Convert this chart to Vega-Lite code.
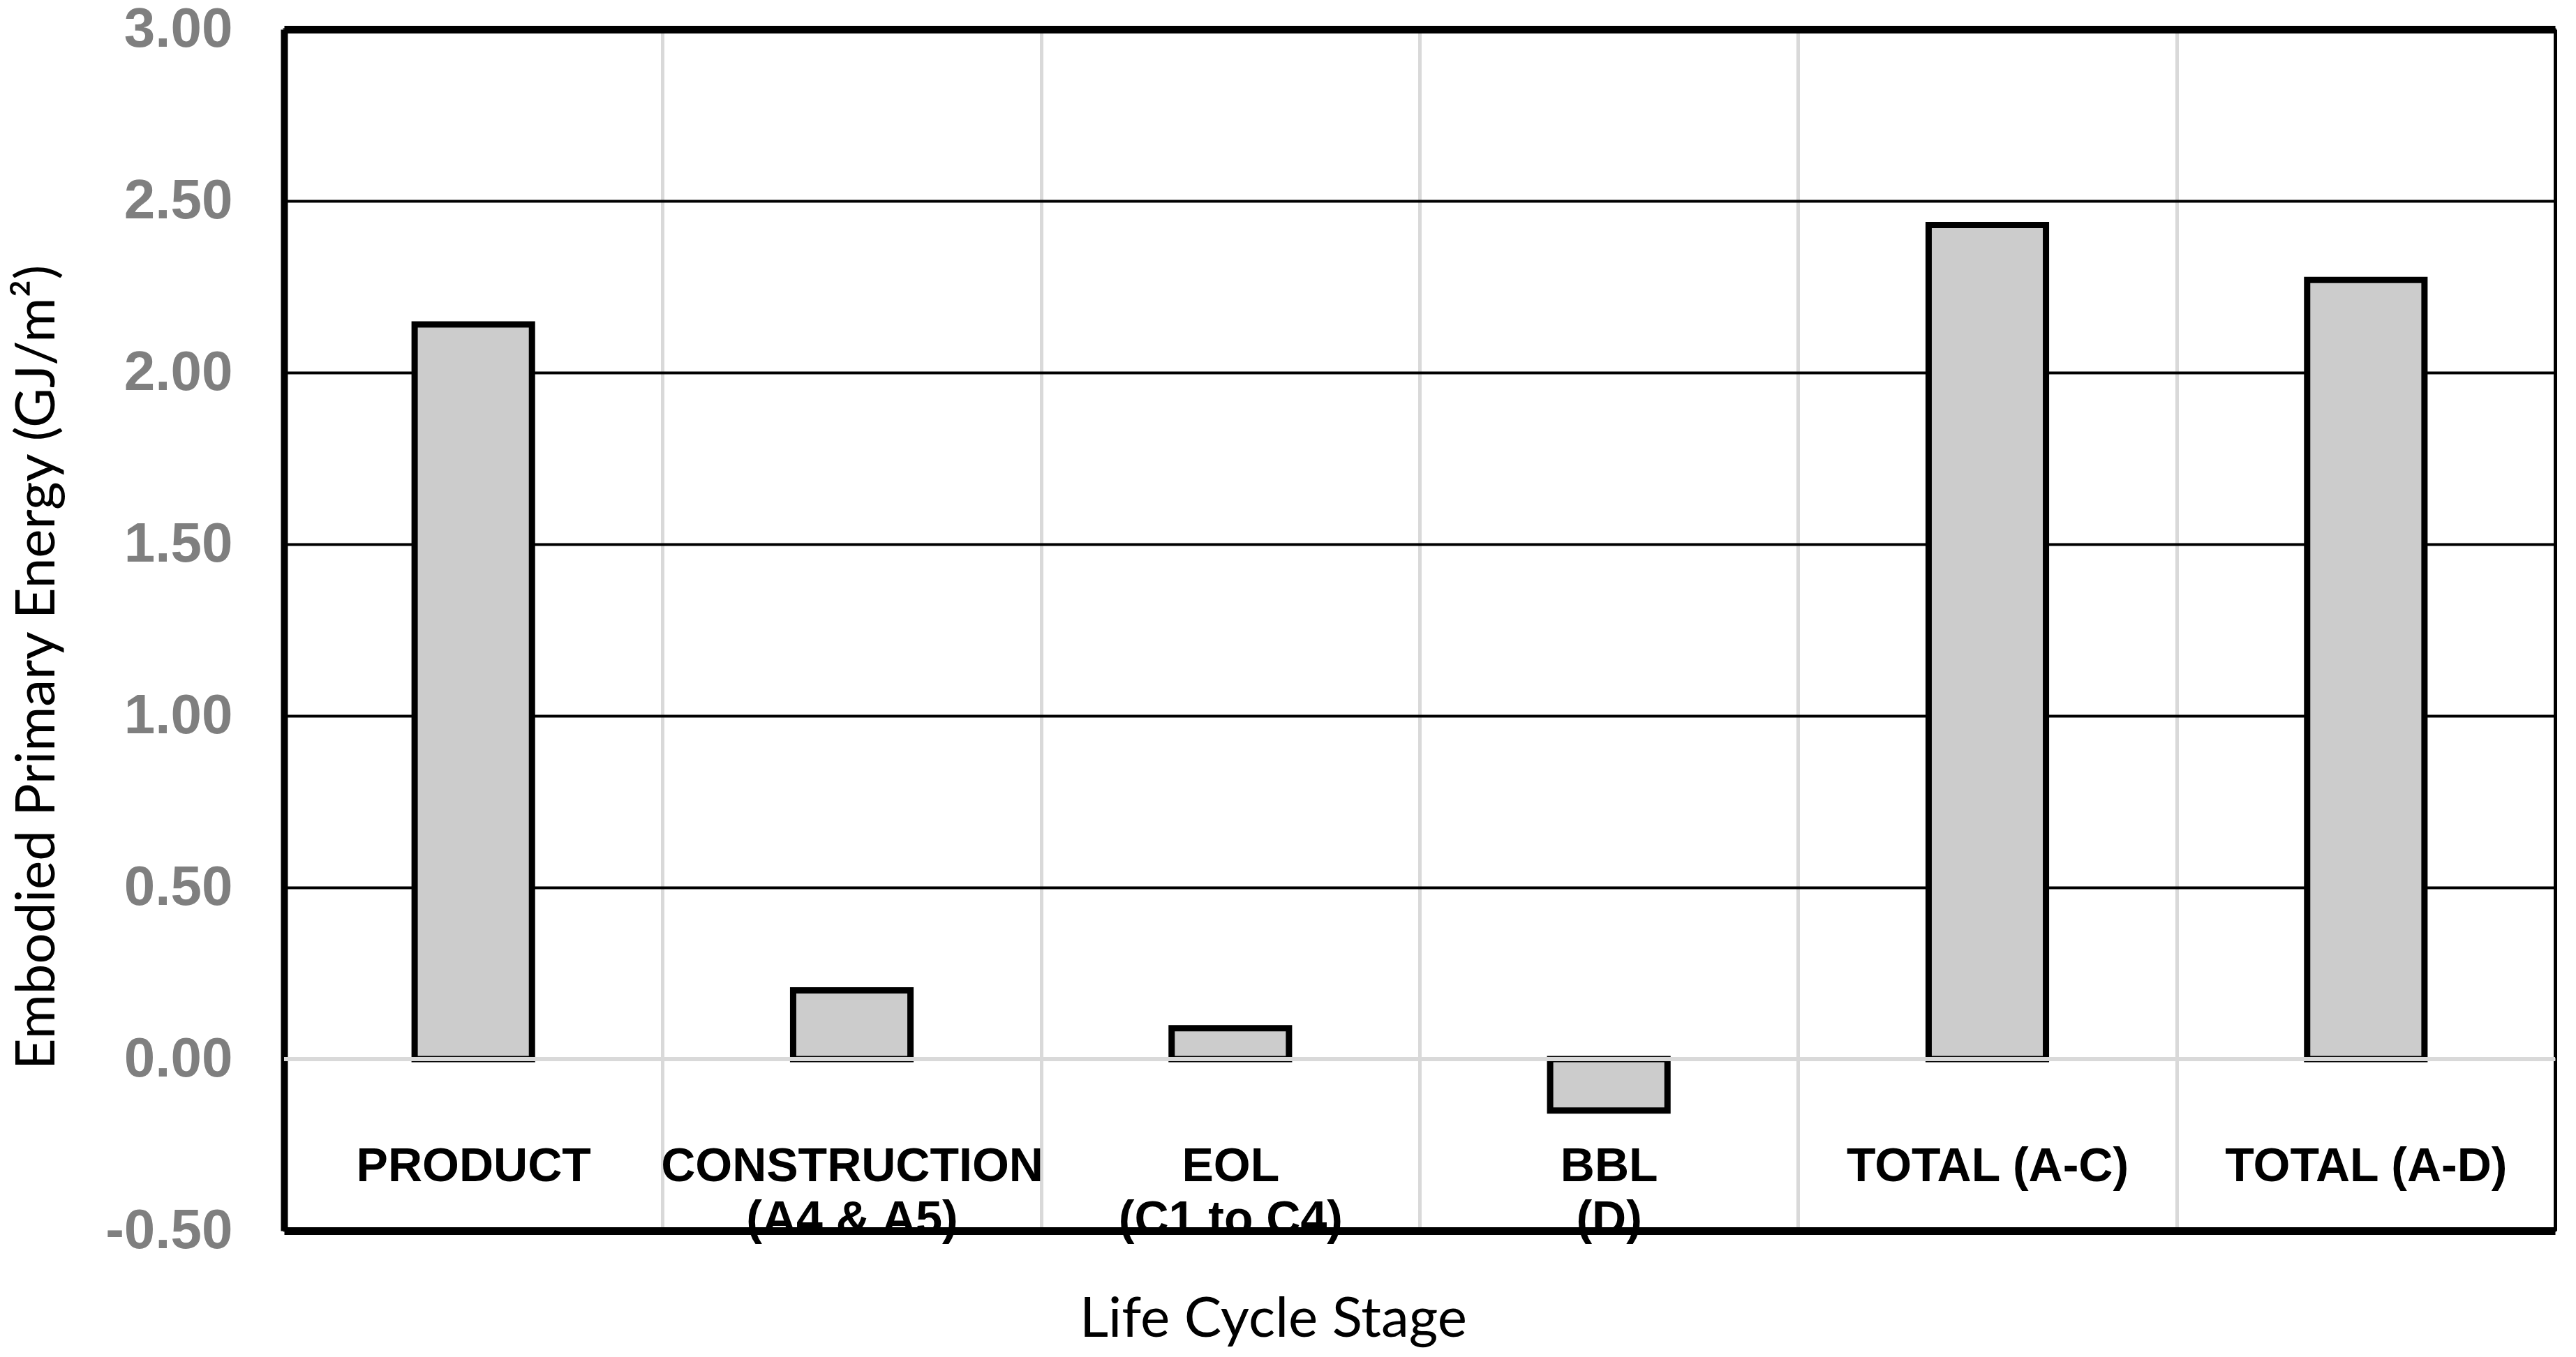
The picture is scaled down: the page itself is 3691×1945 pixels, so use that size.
{
  "$schema": "https://vega.github.io/schema/vega-lite/v6.json",
  "width": 3254,
  "height": 1722,
  "autosize": {"type": "none"},
  "padding": {"left": 407, "top": 42, "right": 30, "bottom": 181},
  "background": "white",
  "config": {"view": {"stroke": "black", "strokeWidth": 3}, "font": "Liberation Sans"},
  "data": {
    "values": [
      {"stage": "PRODUCT", "value": 2.14},
      {"stage": "CONSTRUCTION\n(A4 & A5)", "value": 0.20},
      {"stage": "EOL\n(C1 to C4)", "value": 0.09},
      {"stage": "BBL\n(D)", "value": -0.15},
      {"stage": "TOTAL (A-C)", "value": 2.43},
      {"stage": "TOTAL (A-D)", "value": 2.27}
    ]
  },
  "layer": [
    {
      "mark": {"type": "bar", "fill": "#cccccc", "stroke": "black", "strokeWidth": 9, "width": {"band": 0.31}},
      "encoding": {
        "x": {
          "field": "stage",
          "type": "nominal",
          "sort": null,
          "scale": {"paddingInner": 0, "paddingOuter": 0},
          "axis": {
            "title": "Life Cycle Stage",
            "tickBand": "extent",
            "grid": true,
            "gridColor": {"condition": {"test": "datum.value === 'TOTAL (A-D)'", "value": "black"}, "value": "#d9d9d9"},
            "gridWidth": 5,
            "domain": false,
            "ticks": false,
            "tickSize": 0,
            "labelAngle": 0,
            "labelExpr": "split(datum.label, '\\n')",
            "labelFont": "Liberation Sans",
            "labelFontWeight": "bold",
            "labelFontSize": 68,
            "labelColor": "black",
            "labelLineHeight": 76,
            "labelBaseline": "top",
            "labelPadding": -126,
            "labelOverlap": false,
            "labelBound": false,
            "labelFlush": false,
            "labelLimit": 0,
            "titleFont": "Lato",
            "titleFontSize": 80,
            "titleFontWeight": "normal",
            "titleColor": "black",
            "titleX": 1417,
            "titleY": 151,
            "titleBaseline": "alphabetic",
            "titleAlign": "center"
          }
        },
        "y": {
          "field": "value",
          "type": "quantitative",
          "scale": {"domain": [-0.5, 3], "nice": false},
          "axis": {
            "values": [-0.5, 0, 0.5, 1, 1.5, 2, 2.5, 3],
            "labelExpr": "replace(format(datum.value, '.2f'), '\u2212', '-')",
            "title": "Embodied Primary Energy (GJ/m²)",
            "labelFont": "Liberation Sans",
            "labelFontWeight": "bold",
            "labelFontSize": 80,
            "labelColor": "#7f7f7f",
            "labelPadding": 74,
            "labelLimit": 0,
            "labelFlush": false,
            "labelOverlap": false,
            "ticks": false,
            "tickSize": 0,
            "domainColor": "black",
            "domainWidth": 10,
            "grid": true,
            "gridColor": {"condition": {"test": "datum.value === 0", "value": "#d9d9d9"}, "value": "black"},
            "gridWidth": {"condition": {"test": "datum.value === 3 || datum.value === -0.5", "value": 11}, "value": 4},
            "titleFont": "Lato",
            "titleFontWeight": "normal",
            "titleFontSize": 78,
            "titleColor": "black",
            "titleAngle": -90,
            "titleX": -353,
            "titleY": 914,
            "titleBaseline": "middle",
            "titleAlign": "center",
            "titleLimit": 0
          }
        }
      }
    },
    {
      "mark": {"type": "rule", "color": "#d9d9d9", "strokeWidth": 6},
      "encoding": {"y": {"datum": 0}}
    }
  ]
}
